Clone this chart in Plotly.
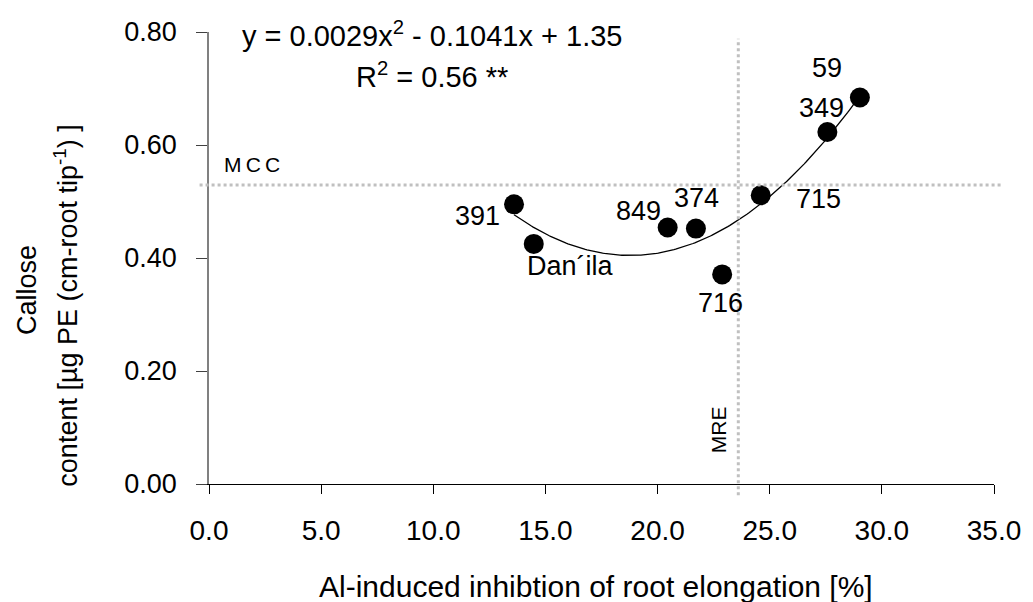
import numpy as np
import plotly.graph_objects as go

# Cultivar / line data: Al-induced root inhibition (%) vs callose content
genotypes = ["391", "Dan´ila", "849", "374", "716", "715", "349", "59"]
inhibition = [13.60, 14.48, 20.45, 21.71, 22.88, 24.60, 27.57, 29.02]
callose = [0.495, 0.425, 0.454, 0.452, 0.371, 0.511, 0.623, 0.684]

# Reference thresholds
mcc_value = 0.529   # mean callose content
mre_value = 23.6    # mean root elongation inhibition

x_ticks = [0, 5, 10, 15, 20, 25, 30, 35]
y_ticks = [0.0, 0.2, 0.4, 0.6, 0.8]

# label offsets (px) relative to each point
label_offsets = {
    "391": (-37, -12),
    "Dan´ila": (37, -22),
    "849": (-29, 16),
    "374": (1, 31),
    "716": (-2, -29),
    "715": (58, -4),
    "349": (-6, 24),
    "59": (-33, 30),
}

FONT = "Liberation Sans, Arial, sans-serif"

# quadratic trend line
coef = np.polyfit(inhibition, callose, 2)
xs = np.linspace(min(inhibition), max(inhibition), 200)
ys = np.polyval(coef, xs)

fig = go.Figure()
fig.add_trace(go.Scatter(x=xs, y=ys, mode="lines",
                         line=dict(color="black", width=1.3),
                         hoverinfo="skip", showlegend=False))
fig.add_trace(go.Scatter(x=inhibition, y=callose, mode="markers",
                         marker=dict(color="black", size=20),
                         text=genotypes, showlegend=False))

# threshold lines
fig.add_shape(type="line", xref="paper", yref="y", x0=-0.012, x1=1.012,
              y0=mcc_value, y1=mcc_value,
              line=dict(color="#c0c0c0", width=3, dash="dot"))
fig.add_shape(type="line", xref="x", yref="paper", x0=mre_value, x1=mre_value,
              y0=-0.025, y1=0.985,
              line=dict(color="#c0c0c0", width=3, dash="dot"))

annotations = []
for g, x, y in zip(genotypes, inhibition, callose):
    dx, dy = label_offsets[g]
    annotations.append(dict(x=x, y=y, xref="x", yref="y", text=g, showarrow=False,
                            xshift=dx, yshift=dy,
                            font=dict(family=FONT, size=27, color="black")))

# free text placed by pixel centre (converted to paper units below)
annotations += [
    dict(x=252, y=165, text="M\u2009C\u2009C", size=21),
    dict(x=724, y=430, text="MRE", size=21, textangle=-90),
    dict(x=435, y=34, text="y = 0.0029x<sup>2</sup> - 0.1041x + 1.35", size=29),
    dict(x=435, y=75, text="R<sup>2</sup> = 0.56 **", size=29),
    dict(x=600, y=586, text="Al-induced inhibtion of root elongation [%]", size=30),
    dict(x=25, y=290, text="Callose", size=27, textangle=-90),
    dict(x=64, y=306, text="content [µg PE (cm-root tip<sup>-1</sup>) ]",
         size=27, textangle=-90),
]

L, R, T, B = 209, 30, 32, 118
W, H = 1033, 602
pw, ph = W - L - R, H - T - B
for a in annotations:
    if "size" in a:
        size = a.pop("size")
        a.update(xref="paper", yref="paper", showarrow=False,
                 xanchor="center", yanchor="middle",
                 x=(a["x"] - L) / pw, y=(H - a["y"] - B) / ph,
                 font=dict(family=FONT, size=size, color="black"))

fig.update_layout(
    width=W, height=H,
    margin=dict(l=L, r=R, t=T, b=B),
    paper_bgcolor="white", plot_bgcolor="white",
    font=dict(family=FONT, size=27, color="black"),
    annotations=annotations,
    xaxis=dict(range=[0, 35], tickvals=x_ticks,
               ticktext=[f"{v:.1f}" for v in x_ticks],
               showgrid=False, zeroline=False, showline=True,
               linecolor="black", linewidth=1.3,
               ticks="outside", ticklen=9, tickcolor="black", tickwidth=1.3,
               tickfont=dict(family=FONT, size=28), ticklabelstandoff=12),
    yaxis=dict(range=[0, 0.8], tickvals=y_ticks,
               ticktext=[f"{v:.2f}" for v in y_ticks],
               showgrid=False, zeroline=False, showline=True,
               linecolor="#808080", linewidth=1.5,
               ticks="outside", ticklen=11, tickcolor="#404040", tickwidth=1.3,
               tickfont=dict(family=FONT, size=27), ticklabelstandoff=14),
)

fig.write_html("out.html")
